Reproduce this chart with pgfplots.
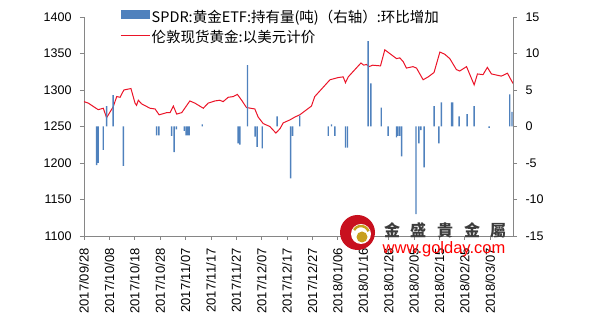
\documentclass[border=0pt]{standalone}
\usepackage{fontspec}
\setmainfont{Liberation Sans}
\newfontfamily\cjk{Noto Sans CJK SC}
\newfontfamily\cjktc{Noto Sans CJK TC}
\usepackage{pgfplots}
\pgfplotsset{compat=1.18}
\definecolor{barblue}{RGB}{79,129,189}
\definecolor{linered}{RGB}{235,20,40}
\definecolor{axgray}{RGB}{134,134,134}
\definecolor{logored}{RGB}{200,16,30}
\definecolor{logogold}{RGB}{200,160,30}
\definecolor{wmgray}{RGB}{60,60,60}

\pgfplotstableread{
day price
0 1284
1.7 1282
5.6 1273
7.6 1275
8.9 1262
11.5 1277
12.9 1291
14.2 1290
15.7 1300
18.5 1302
20.1 1282
20.7 1279
21.4 1286
22.7 1281
26 1275
28 1274
29.6 1266
32.6 1269
33.9 1269
35.2 1278
35.8 1273
36.5 1267
38.5 1269
41.7 1285
43.7 1282
47 1275
48.9 1282
51.6 1285
53.5 1286
54.8 1284
56.8 1290
58.8 1291
60.4 1294
62.1 1286
64 1276
67.3 1274
68.6 1263
70.6 1254
73.2 1250
75.6 1241
77.2 1247
78.5 1255
81.1 1259
83.1 1263
85 1266
89.6 1278
90.9 1291
96.9 1314
100.1 1317
102.1 1318
103 1310
104.1 1318
109.1 1337
110.2 1334
111.3 1335
112.3 1332
113.7 1334
116.8 1333
118.5 1355
123.1 1343
124.4 1344
125.7 1339
127 1330
129.6 1332
131 1330
133.6 1314
135.6 1318
137.9 1324
140.2 1352
142.1 1349
144.1 1343
146.7 1328
148 1326
150.7 1332
153.7 1307
155 1322
157.2 1321
158.9 1331
160.5 1322
164.4 1319
166.8 1323
169 1309
}\pricetable

\pgfplotstableread{
day chg
5.0 -5.3
5.6 -5.0
7.6 -3.2
8.9 2.8
11.5 4.3
15.5 -5.4
28.6 -1.2
29.5 -1.2
34.5 -1.3
35.5 -3.5
36.4 -0.4
39.5 -0.6
40.2 -1.2
40.8 -1.2
41.4 -1.2
46.6 0.3
60.7 -2.3
61.4 -2.5
64.4 8.4
67.4 -1.4
68.2 -2.8
70.2 -3.0
76.1 1.4
81.4 -7.1
82.2 -1.3
85 1.5
96.2 -1.3
97.5 0.3
98.8 -1.3
103 -2.9
103.8 -2.9
111.9 11.7
113 5.9
117.1 2.6
119.8 -1.3
123.1 -1.5
123.7 -1.3
124.4 -1.3
125.1 -4.1
130.8 -12.0
131.9 -2.3
132.7 -0.5
134 -5.6
137.9 2.8
139.8 -2.3
140.8 3.3
144.8 3.3
145.2 3.3
147.8 1.4
150.9 1.7
153.7 2.8
159.6 -0.2
167.7 4.4
168.6 2.0
}\bartable

\begin{document}
\begin{tikzpicture}
\begin{axis}[
  at={(84pt,84pt)}, anchor=south west, scale only axis,
  width=429pt, height=219pt,
  xmin=0, xmax=169, ymin=1100, ymax=1400,
  axis lines*=left,
  axis line style={axgray, line width=0.8pt, -},
  tick align=outside, major tick length=4pt,
  every tick/.style={axgray, line width=0.8pt},
  ytick={1100,1150,...,1400},
  xtick={0,10,...,160},
  xticklabels={2017/09/28,2017/10/08,2017/10/18,2017/10/28,2017/11/07,2017/11/17,2017/11/27,2017/12/07,2017/12/17,2017/12/27,2018/01/06,2018/01/16,2018/01/26,2018/02/05,2018/02/15,2018/02/25,2018/03/07},
  xticklabel style={rotate=90, anchor=east, font=\fontsize{13}{13}\selectfont},
  xticklabel shift=5pt,
  yticklabel style={font=\fontsize{12.5}{13}\selectfont},
  yticklabel shift=5pt,
  /pgf/number format/assume math mode=true,
  /pgf/number format/1000 sep={},
  clip=false,
]
\addplot[linered, line width=1pt] table[x=day, y=price] {\pricetable};
\end{axis}
\begin{axis}[
  at={(84pt,84pt)}, anchor=south west, scale only axis,
  width=429pt, height=219pt,
  xmin=0, xmax=169, ymin=-15, ymax=15,
  axis y line*=right, axis x line=none,
  axis line style={axgray, line width=0.8pt, -},
  tick align=outside, major tick length=4pt,
  every tick/.style={axgray, line width=0.8pt},
  ytick={-15,-10,...,15},
  yticklabel style={font=\fontsize{12.5}{13}\selectfont},
  yticklabel shift=5pt,
  /pgf/number format/assume math mode=true,
  legend style={at={(0.084,1.035)}, anchor=north west, draw=none, fill=none,
    inner sep=0pt, row sep=3.5pt,
    font=\cjk\fontsize{14.5}{15}\selectfont,
    nodes={inner sep=1.5pt, text height=11pt, text depth=3pt}},
  legend cell align=left,
]
\addplot[ybar, bar width=1.4pt, fill=barblue, draw=none,
  legend image code/.code={\fill[barblue] (0pt,-1pt) rectangle (29pt,8pt);}]
  table[x=day, y=chg] {\bartable};
\addlegendentry{SPDR:黄金ETF:持有量(吨)（右轴）:环比增加}
\addlegendimage{linered, line width=1pt,
  legend image code/.code={\draw[linered, line width=1pt] (0pt,3.5pt) -- (29pt,3.5pt);}}
\addlegendentry{伦敦现货黄金:以美元计价}
\end{axis}
% watermark
\fill[logored] (357.5pt,87.5pt) circle (17.5pt);
\fill[white] (361pt,86pt) circle (10pt);
\draw[logogold, line width=2.5pt] (361pt,86pt) ++(150:8pt) arc (150:20:8pt);
\fill[logogold] (362pt,83pt) circle (5.5pt);
\foreach \c/\x in {金/392,盛/418,貴/445,金/472,屬/498}{
  \node[font=\cjktc\bfseries\fontsize{16}{16}\selectfont, text=wmgray, inner sep=0pt] at (\x pt, 89.5pt) {\c};
}
\node[font=\fontsize{16.5}{16.5}\selectfont, text=red, inner sep=0pt] at (444pt, 71pt) {www.golday.com};
\pgfresetboundingbox
\path[use as bounding box] (0,0) rectangle (590pt,320pt);
\end{tikzpicture}
\end{document}
